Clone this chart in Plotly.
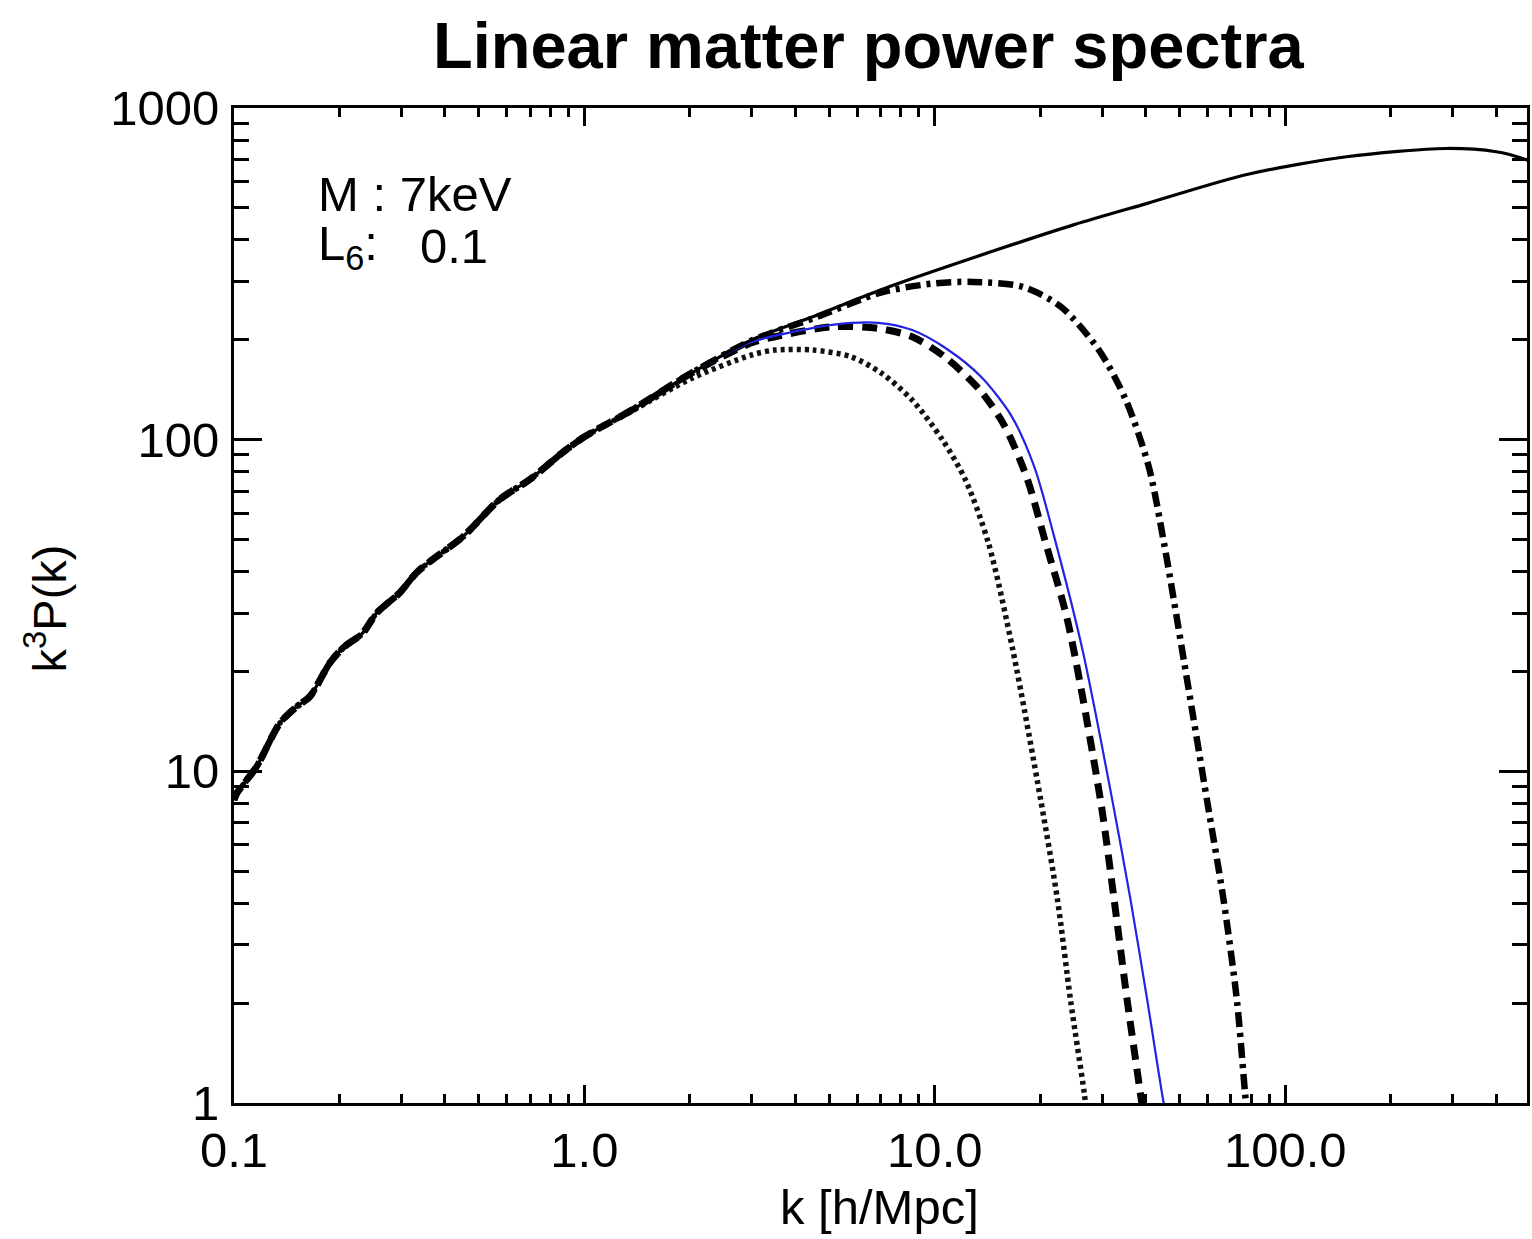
import plotly.graph_objects as go

# ---- data ----
k_cdm = [0.1, 0.1018, 0.116, 0.1352, 0.1508, 0.1645, 0.1876, 0.2042, 0.2328, 0.2552, 0.2967,
         0.331, 0.3611, 0.45, 0.571, 0.70, 0.884, 1.0, 1.365, 2.022, 3.0, 4.49, 7.40, 14.96,
         25.0, 40.4, 77.7, 149.6, 288.0, 399.8, 476.0, 500.0]
p_cdm = [8.2, 8.58, 10.33, 13.98, 15.66, 16.79, 21.21, 23.53, 26.1, 30.0, 34.5,
         39.6, 42.8, 51.0, 65.8, 76.0, 93.0, 102.0, 122.8, 158.8, 200.0, 234.8, 289.0, 372.9,
         445.0, 515.8, 630.0, 712.9, 755.0, 738.0, 704.7, 690.0]

k_dashdot = [0.1, 0.1018, 0.116, 0.1352, 0.1508, 0.1645, 0.1876, 0.2042, 0.2328, 0.2552, 0.2967,
             0.331, 0.3611, 0.45, 0.571, 0.70, 0.884, 1.0, 1.365, 2.022, 3.0, 4.49, 7.05, 10.0,
             12.87, 17.8, 22.9, 29.4, 35.1, 40.8, 45.1, 52.5, 59.8, 66.7, 72.8, 76.8, 78.0]
p_dashdot = [8.2, 8.58, 10.33, 13.98, 15.66, 16.79, 21.21, 23.53, 26.1, 30.0, 34.5,
             39.6, 42.8, 51.0, 65.8, 76.0, 93.0, 102.0, 122.8, 158.8, 199.0, 232.0, 278.0, 296.0,
             299.0, 289.0, 251.6, 186.3, 131.6, 82.8, 48.7, 18.8, 8.19, 4.09, 2.04, 1.07, 0.9]

k_dashed = [0.1, 0.1018, 0.116, 0.1352, 0.1508, 0.1645, 0.1876, 0.2042, 0.2328, 0.2552, 0.2967,
            0.331, 0.3611, 0.45, 0.571, 0.70, 0.884, 1.0, 1.365, 2.022, 3.0, 3.5, 5.09, 6.88,
            8.62, 10.8, 13.53, 15.74, 18.27, 20.73, 23.9, 29.7, 32.5, 35.4, 38.6, 39.5]
p_dashed = [8.2, 8.58, 10.33, 13.98, 15.66, 16.79, 21.21, 23.53, 26.1, 30.0, 34.5,
            39.6, 42.8, 51.0, 65.8, 76.0, 93.0, 102.0, 122.8, 158.8, 196.0, 204.3, 218.9, 216.5,
            204.3, 176.0, 140.0, 111.0, 77.3, 48.7, 28.6, 8.19, 4.09, 2.04, 1.07, 0.9]

k_blue = [0.1, 0.1018, 0.116, 0.1352, 0.1508, 0.1645, 0.1876, 0.2042, 0.2328, 0.2552, 0.2967,
          0.331, 0.3611, 0.45, 0.571, 0.70, 0.884, 1.0, 1.365, 2.022, 3.0, 4.0, 5.09, 6.88,
          8.62, 10.8, 13.53, 16.54, 19.23, 21.8, 26.4, 32.1, 36.2, 40.4, 45.0, 46.0]
p_blue = [8.2, 8.58, 10.33, 13.98, 15.66, 16.79, 21.21, 23.53, 26.1, 30.0, 34.5,
          39.6, 42.8, 51.0, 65.8, 76.0, 93.0, 102.0, 122.8, 158.8, 197.0, 212.0, 222.0, 225.1,
          214.0, 188.0, 155.0, 118.0, 82.8, 52.0, 23.2, 8.19, 4.09, 2.04, 1.0, 0.9]

k_dotted = [0.1, 0.1018, 0.116, 0.1352, 0.1508, 0.1645, 0.1876, 0.2042, 0.2328, 0.2552, 0.2967,
            0.331, 0.3611, 0.45, 0.571, 0.70, 0.884, 1.0, 1.365, 2.022, 3.0, 3.5, 4.49, 5.77,
            7.05, 8.62, 10.53, 12.24, 14.23, 16.7, 20.06, 22.4, 24.4, 26.7, 27.2]
p_dotted = [8.2, 8.58, 10.33, 13.98, 15.66, 16.79, 21.21, 23.53, 26.1, 30.0, 34.5,
            39.6, 42.8, 51.0, 65.8, 76.0, 93.0, 102.0, 122.0, 153.0, 180.0, 186.3, 186.3, 177.8,
            158.5, 131.6, 99.7, 75.5, 48.7, 23.2, 8.19, 4.09, 2.04, 1.07, 0.9]

x_tickvals = [0.1, 1.0, 10.0, 100.0]
x_ticktext = ["0.1", "1.0", "10.0", "100.0"]
y_tickvals = [1, 10, 100, 1000]
y_ticktext = ["1", "10", "100", "1000"]

title_text = "Linear matter power spectra"
x_title = "k [h/Mpc]"
y_title = "k<sup>3</sup>P(k)"

FONT = "Liberation Sans, Arial, Helvetica, sans-serif"

minor_x = [m * 10.0 ** e for e in range(-1, 3) for m in range(2, 10)]
minor_y = [m * 10.0 ** e for e in range(0, 3) for m in range(2, 10)]

fig = go.Figure()
fig.add_trace(go.Scatter(x=k_dotted, y=p_dotted, mode="lines",
                         line=dict(color="#111111", width=5.5, dash="4px,4px",
                                   shape="spline", smoothing=0.8)))
fig.add_trace(go.Scatter(x=k_dashdot, y=p_dashdot, mode="lines",
                         line=dict(color="black", width=6.5, dash="15px,6px,4px,6px",
                                   shape="spline", smoothing=0.8)))
fig.add_trace(go.Scatter(x=k_dashed, y=p_dashed, mode="lines",
                         line=dict(color="black", width=7, dash="15px,9px",
                                   shape="spline", smoothing=0.8)))
fig.add_trace(go.Scatter(x=k_blue, y=p_blue, mode="lines",
                         line=dict(color="rgb(35,35,225)", width=2.2,
                                   shape="spline", smoothing=0.8)))
fig.add_trace(go.Scatter(x=k_cdm, y=p_cdm, mode="lines",
                         line=dict(color="black", width=3.2,
                                   shape="spline", smoothing=0.8)))

W, H = 1532, 1239
L, R, T, B = 234, 2, 108, 136
pw, ph = W - L - R, H - T - B

def px(xp):
    return (xp - L) / pw

def py(yp):
    return (H - B - yp) / ph

fig.update_layout(
    width=W, height=H,
    margin=dict(l=L, r=R, t=T, b=B),
    paper_bgcolor="white", plot_bgcolor="white",
    showlegend=False,
    font=dict(family=FONT, size=49, color="black"),
    xaxis=dict(type="log", range=[-1, 2.69], tickmode="array",
               tickvals=x_tickvals, ticktext=x_ticktext,
               ticks="inside", ticklen=18, tickwidth=3, tickcolor="black",
               showline=True, linewidth=3, linecolor="black", mirror="ticks",
               showgrid=False, zeroline=False,
               tickfont=dict(size=49, family=FONT),
               ticklabelstandoff=2,
               minor=dict(tickmode="array", tickvals=minor_x, ticks="inside",
                          ticklen=9, tickwidth=3, tickcolor="black", showgrid=False)),
    yaxis=dict(type="log", range=[0, 3], tickmode="array",
               tickvals=y_tickvals, ticktext=y_ticktext,
               ticks="inside", ticklen=28, tickwidth=3, tickcolor="black",
               showline=True, linewidth=3, linecolor="black", mirror="ticks",
               showgrid=False, zeroline=False,
               tickfont=dict(size=49, family=FONT),
               ticklabelstandoff=2,
               minor=dict(tickmode="array", tickvals=minor_y, ticks="inside",
                          ticklen=15, tickwidth=3, tickcolor="black", showgrid=False)),
)

fig.add_annotation(text="<b>" + title_text + "</b>", xref="paper", yref="paper",
                   x=px(870), y=py(45), xanchor="center", yanchor="middle",
                   showarrow=False, font=dict(size=65, family=FONT, color="black"))
fig.add_annotation(text=x_title, xref="paper", yref="paper",
                   x=px(881), y=py(1207), xanchor="center", yanchor="middle",
                   showarrow=False, font=dict(size=49, family=FONT))
fig.add_annotation(text=y_title, xref="paper", yref="paper",
                   x=px(46), y=py(608), xanchor="center", yanchor="middle", textangle=-90,
                   showarrow=False, font=dict(size=47, family=FONT))
fig.add_annotation(text="M : 7keV", xref="paper", yref="paper",
                   x=px(316), y=py(194), xanchor="left", yanchor="middle",
                   showarrow=False, font=dict(size=49, family=FONT))
fig.add_annotation(text="L<sub>6</sub>:", xref="paper", yref="paper",
                   x=px(316), y=py(246), xanchor="left", yanchor="middle",
                   showarrow=False, font=dict(size=49, family=FONT, color="black"))
fig.add_annotation(text="0.1", xref="paper", yref="paper",
                   x=px(418), y=py(246), xanchor="left", yanchor="middle",
                   showarrow=False, font=dict(size=49, family=FONT))

fig.write_html("out.html")
